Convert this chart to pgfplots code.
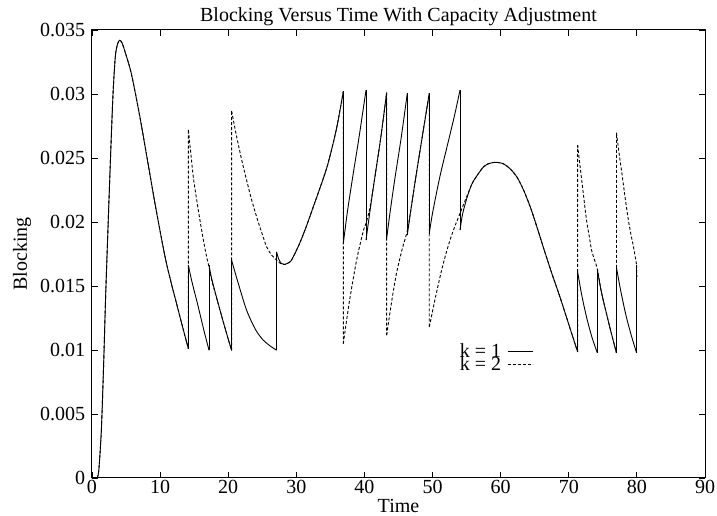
\documentclass[border=0pt]{standalone}
\usepackage{fontspec}
\setmainfont{Liberation Serif}
\usepackage{pgfplots}
\pgfplotsset{compat=1.18}
\newcommand{\gfont}{\fontsize{20}{24}\selectfont}
\begin{document}
\begin{tikzpicture}
\begin{axis}[
    name=ax,
    scale only axis,
    width=613pt, height=448pt,
    xmin=0, xmax=90, ymin=0, ymax=0.035,
    xtick={0,10,20,30,40,50,60,70,80,90},
    xticklabels={0,10,20,30,40,50,60,70,80,90},
    ytick={0,0.005,0.01,0.015,0.02,0.025,0.03,0.035},
    yticklabels={0,0.005,0.01,0.015,0.02,0.025,0.03,0.035},
    scaled y ticks=false,
    tick label style={font=\gfont},
    xticklabel style={yshift=1.5pt},
    yticklabel style={xshift=-3.3pt},
    major tick length=6pt,
    tick style={black, line width=0.8pt},
    axis line style={line width=1pt},
    unbounded coords=jump,
    title={Blocking Versus Time With Capacity Adjustment},
    title style={font=\gfont, at={(axis description cs:0.5,1.0045)}, anchor=base},
    xlabel={Time},
    xlabel style={font=\gfont, at={(axis description cs:0.5,-0.0781)}, anchor=base},
    ylabel={Blocking},
    ylabel style={font=\gfont, at={(axis description cs:-0.1142,0.5)}, anchor=center},
    legend plot pos=right,
    legend cell align=right,
    legend image code/.code={\draw[#1] (0pt,0pt) -- (25pt,0pt);},
    legend style={draw=none, fill=none, font=\gfont, inner sep=0pt, outer sep=0pt,
        at={(axis cs:64.75,0.01052)}, anchor=north east,
        row sep=-2pt, column sep=6pt, nodes={inner sep=0pt}},
]

% k = 1 : smooth pieces between capacity changes
\addplot[black, line width=0.9pt, smooth, tension=0.5] coordinates {
(0.75,0) (1.0,0.0006) (1.37,0.0037) (1.71,0.0089) (2.0,0.01415) (2.34,0.0194)
(2.69,0.0246) (3.07,0.0298) (3.42,0.0329) (3.75,0.0339) (4.06,0.0342) (4.4,0.0340)
(4.79,0.0334) (5.77,0.0316) (7.0,0.0283) (8.12,0.0249) (9.4,0.0210) (10.72,0.0173)
(11.6,0.0153) (12.43,0.0136) (13.3,0.0118) (14.15,0.0101) (14.15,nan)
(14.15,0.01663) (14.6,0.0155) (15.6,0.01337) (16.4,0.0116) (17.18,0.00998) (17.18,nan)
(17.18,0.01663) (17.6,0.0155) (18.8,0.0131) (19.7,0.0114) (20.49,0.00998) (20.49,nan)
(20.49,0.01702) (21.48,0.0152) (22.7,0.01311) (24.0,0.0116) (25.14,0.01077) (26.2,0.0103) (27.1,0.00998) (27.1,nan)
(27.1,0.01767) (27.4,0.01712) (27.8,0.01676) (28.3,0.01668) (29.08,0.01689) (29.5,0.01722)
(30.5,0.01835) (31.5,0.0197) (32.5,0.0212) (33.5,0.0227) (34.45,0.0242) (35.2,0.0257)
(35.9,0.0273) (36.4,0.0287) (36.9,0.0302) (36.9,nan)
(36.9,0.01833) (37.5,0.0208) (38.3,0.0236) (39.2,0.0266) (40.23,0.0303) (40.23,nan)
(40.23,0.01858) (40.8,0.0208) (41.5,0.0234) (42.4,0.0266) (43.26,0.0301) (43.26,nan)
(43.26,0.01872) (43.8,0.0209) (44.5,0.0235) (45.4,0.0266) (46.29,0.03005) (46.29,nan)
(46.29,0.01897) (46.8,0.0209) (47.6,0.0237) (48.5,0.0267) (49.52,0.03005) (49.52,nan)
(49.52,0.0191) (50.0,0.0207) (51.1,0.0236) (52.5,0.0267) (53.3,0.0285) (54.03,0.0303) (54.03,nan)
(54.03,0.01937) (54.4,0.0206) (55.0,0.0218) (55.5,0.0226) (56.0,0.0232) (57.5,0.02432)
(58.5,0.0246) (59.4,0.02466) (60.4,0.02455) (61.4,0.02415) (62.4,0.0235) (63.4,0.02245)
(64.4,0.0211) (65.3,0.01965) (66.4,0.0178) (67.5,0.0160) (68.7,0.01415) (70.0,0.0120) (71.3,0.00985) (71.3,nan)
(71.3,0.0161) (71.9,0.0143) (72.6,0.01259) (73.4,0.0110) (74.2,0.00977) (74.2,nan)
(74.2,0.01624) (74.8,0.0145) (75.6,0.0127) (76.3,0.0112) (77.0,0.00977) (77.0,nan)
(77.0,0.01645) (77.6,0.0147) (78.4,0.0127) (79.2,0.0111) (79.96,0.00977)
};
\addlegendentry{k = 1}

% k = 1 : vertical steps
\addplot[black, line width=0.9pt, forget plot] coordinates {
(14.15,0.0101) (14.15,0.01663) (14.15,nan)
(17.18,0.00998) (17.18,0.01663) (17.18,nan)
(20.49,0.00998) (20.49,0.01702) (20.49,nan)
(27.1,0.00998) (27.1,0.01767) (27.1,nan)
(36.9,0.0302) (36.9,0.01833) (36.9,nan)
(40.23,0.0303) (40.23,0.01858) (40.23,nan)
(43.26,0.0301) (43.26,0.01872) (43.26,nan)
(46.29,0.03005) (46.29,0.01897) (46.29,nan)
(49.52,0.03005) (49.52,0.0191) (49.52,nan)
(54.03,0.0303) (54.03,0.01937) (54.03,nan)
(71.3,0.00985) (71.3,0.0161) (71.3,nan)
(74.2,0.00977) (74.2,0.01624) (74.2,nan)
(77.0,0.00977) (77.0,0.01645) (77.0,nan)
(79.96,0.00977) (79.96,0.01637)
};

% k = 2 : smooth pieces
\addplot[black, line width=0.9pt, dash pattern=on 3pt off 2pt, smooth, tension=0.5] coordinates {
(0.75,0) (1.0,0.0006) (1.37,0.0037) (1.71,0.0089) (2.0,0.01415) (2.34,0.0194)
(2.69,0.0246) (3.07,0.0298) (3.42,0.0329) (3.75,0.0339) (4.06,0.0342) (4.4,0.0340)
(4.79,0.0334) (5.77,0.0316) (7.0,0.0283) (8.12,0.0249) (9.4,0.0210) (10.72,0.0173)
(11.6,0.0153) (12.43,0.0136) (13.3,0.0118) (14.15,0.0101) (14.15,nan)
(14.15,0.0272) (14.5,0.0254) (14.87,0.02353) (15.35,0.0218) (15.85,0.02015) (16.35,0.0186)
(16.83,0.01728) (17.18,0.0165) (17.6,0.0154) (18.8,0.0131) (19.7,0.0114) (20.49,0.00998) (20.49,nan)
(20.49,0.02867) (21.24,0.02666) (22.0,0.0248) (22.7,0.02327) (23.4,0.0218) (24.17,0.0204)
(24.9,0.0192) (25.64,0.01806) (26.4,0.0174) (27.1,0.01702) (27.8,0.01671) (28.3,0.01668)
(29.08,0.01689) (29.5,0.01722)
(30.5,0.01835) (31.5,0.0197) (32.5,0.0212) (33.5,0.0227) (34.45,0.0242) (35.2,0.0257)
(35.9,0.0273) (36.4,0.0287) (36.9,0.0302) (36.9,nan)
(36.9,0.0105) (37.4,0.0124) (37.9,0.01415) (38.85,0.01702) (39.8,0.01923) (40.23,0.0199)
(40.8,0.0211) (41.5,0.0234) (42.4,0.0266) (43.26,0.0301) (43.26,nan)
(43.26,0.01116) (44.0,0.0138) (44.7,0.01598) (45.5,0.0178) (46.29,0.0193)
(46.8,0.0209) (47.6,0.0237) (48.5,0.0267) (49.52,0.03005) (49.52,nan)
(49.52,0.0118) (50.3,0.0138) (51.1,0.01572) (51.8,0.0172) (52.56,0.01858) (53.3,0.0197)
(54.03,0.02067) (54.8,0.0217) (55.5,0.0226) (56.0,0.0232) (57.5,0.02432)
(58.5,0.0246) (59.4,0.02466) (60.4,0.02455) (61.4,0.02415) (62.4,0.0235) (63.4,0.02245)
(64.4,0.0211) (65.3,0.01965) (66.4,0.0178) (67.5,0.0160) (68.7,0.01415) (70.0,0.0120) (71.3,0.00985) (71.3,nan)
(71.3,0.0260) (71.6,0.0246) (71.9,0.02327) (72.25,0.0217) (72.6,0.02015) (73.0,0.0189)
(73.35,0.0178) (73.8,0.0170) (74.2,0.0163) (74.8,0.0145) (75.6,0.0127) (76.3,0.0112) (77.0,0.00977) (77.0,nan)
(77.0,0.02697) (77.4,0.0253) (77.8,0.0238) (78.3,0.0218) (78.75,0.02015) (79.1,0.0191)
(79.5,0.01806) (79.96,0.01663)
};
\addlegendentry{k = 2}

% k = 2 : vertical steps
\addplot[black, line width=0.9pt, dash pattern=on 3pt off 2pt, forget plot] coordinates {
(14.15,0.0101) (14.15,0.0272) (14.15,nan)
(20.49,0.00998) (20.49,0.02867) (20.49,nan)
(36.9,0.0302) (36.9,0.0105) (36.9,nan)
(43.26,0.0301) (43.26,0.01116) (43.26,nan)
(49.52,0.03005) (49.52,0.0118) (49.52,nan)
(71.3,0.00985) (71.3,0.0260) (71.3,nan)
(77.0,0.00977) (77.0,0.02697) (77.0,nan)
(79.96,0.01663) (80.0,0.0157)
};

\end{axis}
\pgfresetboundingbox
\path ([xshift=-92pt,yshift=-38pt]ax.south west) rectangle ([xshift=12pt,yshift=30pt]ax.north east);
\end{tikzpicture}
\end{document}
